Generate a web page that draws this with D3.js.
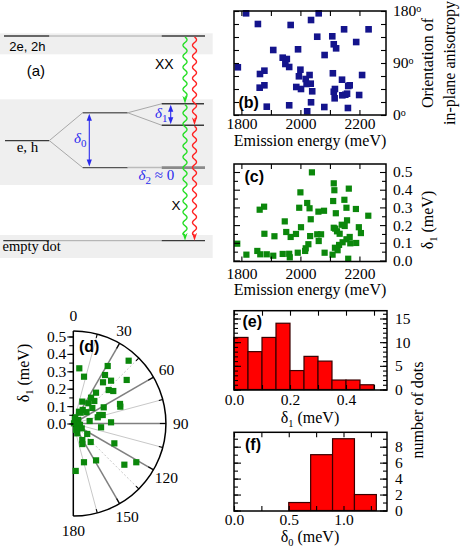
<!DOCTYPE html>
<html><head><meta charset="utf-8">
<script src="https://cdn.jsdelivr.net/npm/d3@7"></script>
<style>body{margin:0;background:#fff}svg{display:block}</style>
</head><body>
<svg id="fig" width="463" height="549"></svg>
<script>
// ---------------- DATA ----------------
const bEnergy = [1816,1856,1967,2036,2062,2148,2231,2057,2108,2189,2113,2121,1908,1992,2082,1940,1954,1949,1962,1788,2000,1878,1863,1995,2031,2110,2209,2141,2018,2021,2035,1878,1862,1986,2002,2040,2117,2167,2162,2113,2116,2142,2152,2158,2199,2036,1886,1962,2081,2161,2023];
const bAngle = [176,157.5,155.8,164.4,176,148.3,148.3,135.5,136.2,126.3,122.4,115.4,112.5,113.7,103.8,99.2,96.9,88.3,83.1,82.6,78.4,76.7,71,67,69.2,72.2,69.2,61.1,62.3,53.7,54.2,51.4,47.3,48.5,45,41,45,51.4,50.2,40.3,28.9,34.1,35.1,36.9,34.6,22,14.4,16.8,13.8,12.1,6.4];

const cEnergy = [2039,2113,2115,2164,2000,2111,2149,2023,1996,2031,2156,2188,1877,1862,2061,2080,2120,2230,2035,1947,2158,2140,2150,2113,2118,2002,2198,1952,2124,2205,1878,1967,1985,2033,2057,2070,2133,1912,2167,2062,2156,1786,2027,2143,2169,2189,2131,2117,2018,2126,1854,1864,1886,1908,1817,1940,1962,1964,1991,2016,2082,2109,2162];
const cDelta1 = [0.498,0.436,0.397,0.406,0.385,0.336,0.343,0.325,0.298,0.295,0.298,0.291,0.304,0.287,0.276,0.281,0.267,0.253,0.233,0.221,0.227,0.202,0.195,0.185,0.18,0.188,0.188,0.161,0.165,0.155,0.151,0.133,0.15,0.138,0.148,0.148,0.151,0.137,0.133,0.11,0.12,0.095,0.092,0.103,0.097,0.099,0.088,0.072,0.069,0.058,0.054,0.035,0.035,0.027,0.033,0.037,0.038,0.018,0.044,0.054,0.044,0.033,0.01];

const dAngle = [6.2,30.9,41.4,12.9,33.2,35.8,41.4,50.8,46.6,50.9,36.4,34.5,43,36.6,22.4,50.8,67.3,70.3,62,49.4,25.8,71.9,73.9,75.7,88.2,81.3,97.8,126.9,151.4,156.3,136.8,115.8,164.6,148.3,128.9,121.6,177.1,18,55,74,102,145,120,158,157,15,34.8,34];
const dDelta1 = [0.319,0.385,0.481,0.276,0.333,0.292,0.328,0.396,0.28,0.296,0.22,0.18,0.177,0.145,0.136,0.141,0.291,0.287,0.198,0.1,0.075,0.157,0.176,0.145,0.217,0.095,0.161,0.1,0.108,0.129,0.146,0.262,0.231,0.249,0.377,0.425,0.273,0.031,0.035,0.004,0.039,0.034,0.056,0.061,0.04,0.037,0.095,0.075];

const eBinEdges = [0,0.05,0.1,0.15,0.2,0.25,0.3,0.35,0.4,0.45,0.5];
const eCounts = [11,8,11,14,4,7,6,2,2,1];
const fBinEdges = [0.5,0.7,0.9,1.1,1.3];
const fCounts = [1,7,9,2];

const energyTickLabels = [1800,2000,2200];
const energyTicks = [1800,1900,2000,2100,2200];
const angleTickLabels = [0,90,180];
const angleTicks = [0,22.5,45,67.5,90,112.5,135,157.5,180];
const delta1TickLabels = [0,0.1,0.2,0.3,0.4,0.5];
const delta1Ticks = [0,0.05,0.1,0.15,0.2,0.25,0.3,0.35,0.4,0.45,0.5];
const eXTickLabels = [0,0.2,0.4];
const eXTicks = [0,0.1,0.2,0.3,0.4,0.5];
const eYTickLabels = [0,5,10,15];
const eYTicks = d3.range(0,17);
const fXTickLabels = [0,0.5,1.0];
const fXTicks = [0,0.25,0.5,0.75,1.0,1.25];
const fYTickLabels = [0,2,4,6,8];
const fYTicks = d3.range(0,10);
const polarAngleLabels = [0,30,60,90,120,150,180];
const polarAngleTicks = d3.range(0,181,15);

// ---------------- SETUP ----------------
const svg = d3.select("#fig");
const SERIF = "'Liberation Serif','Times New Roman',serif";
const SANS = "'Liberation Sans',Arial,sans-serif";
const TFS = 15.5, LFS = 16;
const NAVY = "#14148c", GREEN = "#0b870b", BLUE = "#2a2aee";

function styleAxis(g){
  g.select(".domain").remove();
  g.attr("font-family",SERIF).attr("font-size",TFS);
  g.selectAll(".tick line").attr("stroke","#000").attr("stroke-width",1.1);
  g.selectAll(".tick text").attr("fill","#000");
  return g;
}
function addAxis(gen, x, y){ return styleAxis(svg.append("g").attr("transform",`translate(${x},${y})`).call(gen)); }
function frame(x0,y0,x1,y1){ svg.append("rect").attr("x",x0).attr("y",y0).attr("width",x1-x0).attr("height",y1-y0).attr("fill","none").attr("stroke","#000").attr("stroke-width",1.5); }
function panelLabel(t,x,y){ svg.append("text").attr("x",x).attr("y",y).attr("font-family",SANS).attr("font-weight","bold").attr("font-size",16).text(t); }
function subText(sel, main, sub, rest, fs){
  sel.append("tspan").text(main);
  sel.append("tspan").attr("dy", fs*0.25).attr("font-size", fs*0.65).text(sub);
  if(rest) sel.append("tspan").attr("dy", -fs*0.25).text(rest);
}
const fmt1 = d3.format(".1f");

// ---------------- PANEL (b) ----------------
const B = {x0:234,x1:386,y0:11,y1:115};
const xEn = d3.scaleLinear().domain([1775,2290]).range([B.x0,B.x1]);
const yB = d3.scaleLinear().domain([0,180]).range([B.y1,B.y0]);
svg.append("g").selectAll("rect").data(bEnergy.map((e,i)=>[e,bAngle[i]])).join("rect")
  .attr("x",d=>xEn(d[0])-3.3).attr("y",d=>yB(d[1])-3.3).attr("width",6.6).attr("height",6.6).attr("fill",NAVY);
addAxis(d3.axisBottom(xEn).tickValues(energyTicks).tickSize(-5).tickPadding(3).tickFormat(d=>energyTickLabels.includes(d)?d:""),0,B.y1);
addAxis(d3.axisTop(xEn).tickValues(energyTicks).tickSize(-5).tickFormat(""),0,B.y0);
addAxis(d3.axisLeft(yB).tickValues(angleTicks).tickSize(-5).tickFormat(""),B.x0,0);
const bR = addAxis(d3.axisRight(yB).tickValues(angleTicks).tickSize(-5).tickPadding(7).tickFormat(d=>angleTickLabels.includes(d)?d:""),B.x1,0);
bR.selectAll(".tick text").filter(d=>angleTickLabels.includes(d)).append("tspan").attr("dy","-0.45em").attr("font-size",10).text("o");
frame(B.x0,B.y0,B.x1,B.y1);
panelLabel("(b)",238.5,108);
svg.append("text").attr("x",310).attr("y",146).attr("text-anchor","middle").attr("font-family",SERIF).attr("font-size",LFS).text("Emission energy (meV)");
svg.append("text").attr("transform","translate(433,63) rotate(-90)").attr("text-anchor","middle").attr("font-family",SERIF).attr("font-size",LFS).text("Orientation of");
svg.append("text").attr("transform","translate(455,63) rotate(-90)").attr("text-anchor","middle").attr("font-family",SERIF).attr("font-size",LFS).text("in-plane anisotropy");

// ---------------- PANEL (c) ----------------
const C = {x0:234,x1:386,y0:164,y1:261.5};
const xEnC = d3.scaleLinear().domain([1775,2290]).range([C.x0,C.x1]);
const yC = d3.scaleLinear().domain([0,0.5]).range([260.5,172]);
svg.append("g").selectAll("rect").data(cEnergy.map((e,i)=>[e,cDelta1[i]])).join("rect")
  .attr("x",d=>xEnC(d[0])-3.1).attr("y",d=>yC(d[1])-3.1).attr("width",6.2).attr("height",6.2).attr("fill",GREEN);
addAxis(d3.axisBottom(xEnC).tickValues(energyTicks).tickSize(-5).tickPadding(6.5).tickFormat(d=>energyTickLabels.includes(d)?d:""),0,C.y1);
addAxis(d3.axisTop(xEnC).tickValues(energyTicks).tickSize(-5).tickFormat(""),0,C.y0);
addAxis(d3.axisLeft(yC).tickValues(delta1Ticks.filter(d=>!delta1TickLabels.some(v=>Math.abs(v-d)<1e-9))).tickSize(-4).tickFormat(""),C.x0,0);
addAxis(d3.axisLeft(yC).tickValues(delta1TickLabels).tickSize(-6).tickFormat(""),C.x0,0);
addAxis(d3.axisRight(yC).tickValues(delta1Ticks.filter(d=>!delta1TickLabels.some(v=>Math.abs(v-d)<1e-9))).tickSize(-4).tickFormat(""),C.x1,0);
addAxis(d3.axisRight(yC).tickValues(delta1TickLabels).tickSize(-6).tickPadding(7).tickFormat(fmt1),C.x1,0);
frame(C.x0,C.y0,C.x1,C.y1);
panelLabel("(c)",244.5,182);
svg.append("text").attr("x",310).attr("y",295).attr("text-anchor","middle").attr("font-family",SERIF).attr("font-size",LFS).text("Emission energy (meV)");
subText(svg.append("text").attr("transform","translate(433,220) rotate(-90)").attr("text-anchor","middle").attr("font-family",SERIF).attr("font-size",LFS),"δ","1"," (meV)",LFS);

// ---------------- PANEL (e) ----------------
const E = {x0:234,x1:387,y0:310.7,y1:390};
const xE = d3.scaleLinear().domain([0,0.5]).range([234,374]);
const yE = d3.scaleLinear().domain([0,15]).range([389.5,318.5]);
svg.append("g").selectAll("rect").data(eCounts.map((c,i)=>[eBinEdges[i],eBinEdges[i+1],c])).join("rect")
  .attr("x",d=>xE(d[0])).attr("width",d=>xE(d[1])-xE(d[0])).attr("y",d=>yE(d[2])).attr("height",d=>yE(0)-yE(d[2]))
  .attr("fill","#ff0000").attr("stroke","#3a0000").attr("stroke-width",1.2);
addAxis(d3.axisBottom(xE).tickValues(eXTicks).tickSize(-5).tickPadding(3.5).tickFormat(d=>eXTickLabels.some(v=>Math.abs(v-d)<1e-9)?fmt1(d):""),0,E.y1);
addAxis(d3.axisTop(xE).tickValues(eXTicks).tickSize(-5).tickFormat(""),0,E.y0);
addAxis(d3.axisLeft(yE).tickValues(eYTicks).tickSize(-4).tickFormat(""),E.x0,0);
addAxis(d3.axisLeft(yE).tickValues(eYTickLabels).tickSize(-7).tickFormat(""),E.x0,0);
addAxis(d3.axisRight(yE).tickValues(eYTicks).tickSize(-4).tickFormat(""),E.x1,0);
addAxis(d3.axisRight(yE).tickValues(eYTickLabels).tickSize(-7).tickPadding(8).tickFormat(d3.format("d")),E.x1,0);
frame(E.x0,E.y0,E.x1,E.y1);
panelLabel("(e)",242.5,327);
subText(svg.append("text").attr("x",310).attr("y",422.5).attr("text-anchor","middle").attr("font-family",SERIF).attr("font-size",LFS),"δ","1"," (meV)",LFS);

// ---------------- PANEL (f) ----------------
const F = {x0:234,x1:387,y0:432.3,y1:511};
const xF = d3.scaleLinear().domain([0,1]).range([234,343.5]);
const yF = d3.scaleLinear().domain([0,8]).range([510.5,446.7]);
svg.append("g").selectAll("rect").data(fCounts.map((c,i)=>[fBinEdges[i],fBinEdges[i+1],c])).join("rect")
  .attr("x",d=>xF(d[0])).attr("width",d=>xF(d[1])-xF(d[0])).attr("y",d=>yF(d[2])).attr("height",d=>yF(0)-yF(d[2]))
  .attr("fill","#ff0000").attr("stroke","#3a0000").attr("stroke-width",1.2);
addAxis(d3.axisBottom(xF).tickValues(fXTicks).tickSize(-5).tickPadding(2.5).tickFormat(d=>fXTickLabels.includes(d)?fmt1(d):""),0,F.y1);
addAxis(d3.axisTop(xF).tickValues(fXTicks).tickSize(-5).tickFormat(""),0,F.y0);
addAxis(d3.axisLeft(yF).tickValues(fYTicks).tickSize(-4).tickFormat(""),F.x0,0);
addAxis(d3.axisLeft(yF).tickValues(fYTickLabels).tickSize(-7).tickFormat(""),F.x0,0);
addAxis(d3.axisRight(yF).tickValues(fYTicks).tickSize(-4).tickFormat(""),F.x1,0);
addAxis(d3.axisRight(yF).tickValues(fYTickLabels).tickSize(-7).tickPadding(8).tickFormat(d3.format("d")),F.x1,0);
frame(F.x0,F.y0,F.x1,F.y1);
panelLabel("(f)",245,450);
subText(svg.append("text").attr("x",310).attr("y",542).attr("text-anchor","middle").attr("font-family",SERIF).attr("font-size",LFS),"δ","0"," (meV)",LFS);
svg.append("text").attr("transform","translate(423,410) rotate(-90)").attr("text-anchor","middle").attr("font-family",SERIF).attr("font-size",LFS).text("number of dots");

// ---------------- PANEL (d) polar ----------------
const cx = 73.3, cy = 423.5, rMax = 0.532;
const rD = d3.scaleLinear().domain([0,0.5]).range([0,87]);
const R = rD(rMax);
const rad = a => a*Math.PI/180;
const gD = svg.append("g");
polarAngleTicks.forEach(a=>{
  if(a===0||a===180) return;
  const major = a%30===0;
  gD.append("line").attr("x1",cx).attr("y1",cy).attr("x2",cx+R*Math.sin(rad(a))).attr("y2",cy-R*Math.cos(rad(a)))
    .attr("stroke",major?"#808080":"#c8c8c8").attr("stroke-width",major?1.5:1)
    .attr("stroke-dasharray",(a===45||a===135)?"2,2":null);
  const tl = major?6:4;
  gD.append("line").attr("x1",cx+(R-tl)*Math.sin(rad(a))).attr("y1",cy-(R-tl)*Math.cos(rad(a)))
    .attr("x2",cx+R*Math.sin(rad(a))).attr("y2",cy-R*Math.cos(rad(a))).attr("stroke","#000").attr("stroke-width",1.1);
});
const arcP = d3.path(); arcP.moveTo(cx,cy-R); arcP.arc(cx,cy,R,-Math.PI/2,Math.PI/2,false);
gD.append("path").attr("d",arcP.toString()).attr("fill","none").attr("stroke","#000").attr("stroke-width",1.5);
gD.append("line").attr("x1",cx).attr("y1",cy-R).attr("x2",cx).attr("y2",cy+R).attr("stroke","#000").attr("stroke-width",1.5);
gD.selectAll("rect.pt").data(dAngle.map((a,i)=>[a,dDelta1[i]])).join("rect")
  .attr("x",d=>cx+rD(d[1])*Math.sin(rad(d[0]))-3.1).attr("y",d=>cy-rD(d[1])*Math.cos(rad(d[0]))-3.1)
  .attr("width",6.2).attr("height",6.2).attr("fill",GREEN);
const yD = d3.scaleLinear().domain([0,0.5]).range([cy,cy-87]);
addAxis(d3.axisLeft(yD).tickValues(delta1Ticks).tickSize(4).tickFormat(""),cx,0);
addAxis(d3.axisLeft(yD).tickValues(delta1TickLabels).tickSize(6).tickPadding(1).tickFormat(fmt1),cx,0);
polarAngleLabels.forEach(a=>{
  const rr = R+15;
  gD.append("text").attr("x",cx+rr*Math.sin(rad(a))-(a===30?3:0)).attr("y",cy-rr*Math.cos(rad(a))).attr("dy","0.35em")
    .attr("text-anchor","middle").attr("font-family",SERIF).attr("font-size",TFS).text(a);
});
panelLabel("(d)",79,352);
subText(svg.append("text").attr("transform","translate(29,373) rotate(-90)").attr("text-anchor","middle").attr("font-family",SERIF).attr("font-size",LFS),"δ","1"," (meV)",LFS);

// ---------------- PANEL (a) schematic ----------------
const gA = svg.append("g");
const yA = d3.scaleLinear().domain([0,100]).range([240.7,36]);
const lvXX = 100, lvUp = 66.9, lvMid = 62.5, lvD1lo = 56.4, lvEH = 48.9, lvD2 = 35.7, lvG = 0;
[[33.3,54.3],[99.3,185],[235,258]].forEach(b=>gA.append("rect").attr("x",0).attr("y",b[0]).attr("width",212.7).attr("height",b[1]-b[0]).attr("fill","#efefef"));
const DARK = "#3a3a3a", LIGHT = "#a8a8a8";
function seg(x1,e1,x2,e2,col,w){ gA.append("line").attr("x1",x1).attr("y1",yA(e1)).attr("x2",x2).attr("y2",yA(e2)).attr("stroke",col).attr("stroke-width",w); }
seg(4,lvXX,49.3,lvXX,DARK,1.3); seg(49.3,lvXX,161.7,lvXX,LIGHT,1); seg(161.7,lvXX,205,lvXX,DARK,1.3);
seg(5,lvEH,49.3,lvEH,DARK,1.3);
seg(49.3,lvEH,82.7,lvMid,LIGHT,1); seg(49.3,lvEH,82.7,lvD2,LIGHT,1);
seg(82.7,lvMid,127.7,lvMid,"#666",1.3);
seg(127.7,lvMid,161.7,lvUp,LIGHT,1); seg(127.7,lvMid,161.7,lvD1lo,LIGHT,1);
seg(161.7,lvUp,204,lvUp,DARK,1.3); seg(161.7,lvD1lo,204,lvD1lo,DARK,1.3);
seg(82.7,lvD2,127.7,lvD2,"#555",1.3); seg(127.7,lvD2,161.7,lvD2,"#bbb",1.5); seg(161.7,lvD2,205,lvD2,"#8a8a8a",2.8);
seg(3.3,lvG,49.3,lvG,DARK,1.3); seg(49.3,lvG,161.7,lvG,LIGHT,1); seg(161.7,lvG,205,lvG,DARK,1.3);

function wavy(xc,y0,y1,col){
  const pts = d3.range(y0,y1-6,0.5).map(y=>[xc+2.0*Math.sin(2*Math.PI*(y-y0)/11),y]);
  pts.push([xc,y1-6]);
  gA.append("path").attr("d",d3.line()(pts)).attr("fill","none").attr("stroke",col).attr("stroke-width",1.4);
  gA.append("path").attr("d",`M${xc-2.6},${y1-8} L${xc},${y1} L${xc+2.6},${y1-8} L${xc},${y1-5.5} Z`).attr("fill",col);
}
const GW = "#22dd22", RW = "#ff2020";
wavy(185,yA(lvXX)+1,yA(lvUp),GW);
wavy(185,yA(lvUp)+1,yA(lvG),GW);
wavy(194.5,yA(lvXX)+1,yA(lvD1lo),RW);
wavy(194.5,yA(lvD1lo)+1,yA(lvG),RW);

function dblArrow(x,e1,e2){
  const y1 = yA(e1)+1, y2 = yA(e2)-1;
  gA.append("line").attr("x1",x).attr("y1",y1+5).attr("x2",x).attr("y2",y2-5).attr("stroke",BLUE).attr("stroke-width",1.1);
  gA.append("path").attr("d",`M${x},${y1} L${x-2.6},${y1+7} L${x+2.6},${y1+7} Z`).attr("fill",BLUE);
  gA.append("path").attr("d",`M${x},${y2} L${x-2.6},${y2-7} L${x+2.6},${y2-7} Z`).attr("fill",BLUE);
}
dblArrow(89.3,lvMid,lvD2);
dblArrow(170.7,lvUp,lvD1lo);

function blueDelta(x,y,sub,rest){
  const t = gA.append("text").attr("x",x).attr("y",y).attr("font-family",SERIF).attr("font-size",15).attr("fill",BLUE);
  t.append("tspan").attr("font-style","italic").text("δ");
  t.append("tspan").attr("dy",3.5).attr("font-size",11).text(sub);
  if(rest) t.append("tspan").attr("dy",-3.5).text(rest);
}
blueDelta(74,143,"0");
blueDelta(155,118,"1");
blueDelta(138.5,180,"2"," ≈ 0");

function aText(t,x,y,fam,fs){ gA.append("text").attr("x",x).attr("y",y).attr("font-family",fam).attr("font-size",fs).text(t); }
aText("2e, 2h",9.3,50.5,SANS,13);
aText("(a)",26.7,76,SANS,15);
aText("XX",155,68.5,SANS,14);
aText("e, h",16.7,151.5,SERIF,15);
aText("X",171.5,209.5,SANS,13.5);
aText("empty dot",2.5,251,SERIF,14.5);
</script>
</body></html>
